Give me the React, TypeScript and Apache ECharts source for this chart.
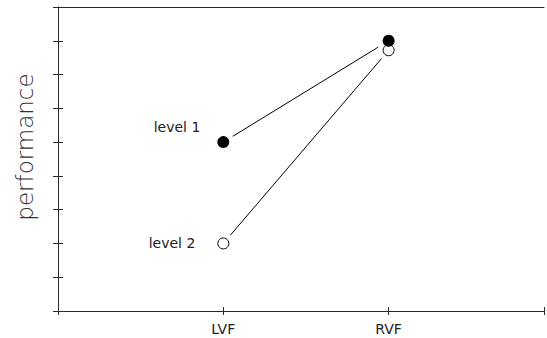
import React, { useEffect, useRef } from "react";
import * as echarts from "echarts";

const categories = ["LVF", "RVF"];
const categoryPositions = [1, 2];
const level1Values = [5, 8];
const level2Values = [2, 7.72];
const seriesNames = ["level 1", "level 2"];
const yAxisTitle = "performance";

export default function App() {
  const ref = useRef<HTMLDivElement>(null);
  useEffect(() => {
    if (!ref.current) return;
    const chart = echarts.init(ref.current, undefined, { renderer: "svg" });
    const pts = (vals: number[]) => vals.map((v, i) => [categoryPositions[i], v]);
    const p1 = pts(level1Values);
    const p2 = pts(level2Values);
    const axisColor = "#2a2a2a";
    const fontFamily = "'DejaVu Sans', sans-serif";
    const yAxisBase = {
      type: "value",
      min: 0,
      max: 9,
      interval: 1,
      axisLabel: { show: false },
      splitLine: { show: false },
      axisLine: { show: true, lineStyle: { color: axisColor, width: 1 } },
    };
    const xAxisBase = {
      type: "value",
      min: 0,
      max: 2.94,
      interval: 1,
      splitLine: { show: false },
      axisLine: { show: true, lineStyle: { color: axisColor, width: 1 } },
    };
    const haloLine = (name: string, data: number[][]) => ({
      name,
      type: "line",
      data,
      showSymbol: true,
      symbol: "circle",
      symbolSize: 22,
      itemStyle: { color: "#ffffff", borderColor: "#ffffff", borderWidth: 0, opacity: 1 },
      lineStyle: { color: "#000", width: 1 },
      silent: true,
      z: 1,
    });
    chart.setOption({
      animation: false,
      backgroundColor: "#ffffff",
      grid: { left: 58, right: 0, top: 7, bottom: 27 },
      xAxis: [
        {
          ...xAxisBase,
          position: "bottom",
          axisTick: { show: true, length: 4, lineStyle: { color: axisColor } },
          axisLabel: {
            show: true,
            margin: 11,
            fontSize: 14,
            color: "#222",
            fontFamily,
            formatter: (v: number) => {
              const i = categoryPositions.indexOf(Math.round(v * 100) / 100);
              return i >= 0 ? categories[i] : "";
            },
          },
        },
        {
          ...xAxisBase,
          position: "bottom",
          axisTick: { show: true, inside: true, length: 4, lineStyle: { color: axisColor } },
          axisLabel: { show: false },
        },
        {
          ...xAxisBase,
          position: "top",
          axisTick: { show: false },
          axisLabel: { show: false },
        },
      ],
      yAxis: [
        {
          ...yAxisBase,
          position: "left",
          axisTick: { show: true, length: 5, lineStyle: { color: axisColor } },
        },
        {
          ...yAxisBase,
          position: "left",
          offset: 0,
          axisTick: { show: true, inside: true, length: 5, lineStyle: { color: axisColor } },
        },
      ],
      graphic: [
        {
          type: "text",
          x: 25,
          y: 147,
          rotation: Math.PI / 2,
          style: {
            text: yAxisTitle,
            x: 0,
            y: 0,
            align: "center",
            verticalAlign: "middle",
            fontSize: 23,
            fontFamily,
            fontWeight: 200,
            fill: "#333",
          },
        },
      ],
      series: [
        haloLine(seriesNames[0], p1),
        haloLine(seriesNames[1], p2),
        {
          name: seriesNames[1],
          type: "scatter",
          data: p2.map((p, i) => ({
            value: p,
            label: i === 0 ? { show: true } : { show: false },
          })),
          symbol: "circle",
          symbolSize: 11,
          itemStyle: { color: "#ffffff", borderColor: "#000", borderWidth: 1, opacity: 1 },
          label: {
            position: "left",
            distance: 22,
            formatter: "{a}",
            fontSize: 14,
            color: "#222",
            fontFamily,
          },
          z: 6,
        },
        {
          name: seriesNames[0],
          type: "scatter",
          data: p1.map((p, i) => ({
            value: p,
            label: i === 0 ? { show: true } : { show: false },
          })),
          symbol: "circle",
          symbolSize: 12,
          itemStyle: { color: "#000", opacity: 1 },
          label: {
            position: "left",
            distance: 17,
            offset: [0, -15],
            formatter: "{a}",
            fontSize: 14,
            color: "#222",
            fontFamily,
          },
          z: 7,
        },
      ],
    });
    return () => chart.dispose();
  }, []);
  return <div ref={ref} style={{ width: 547, height: 338, position: "absolute", left: 0, top: 0 }} />;
}
